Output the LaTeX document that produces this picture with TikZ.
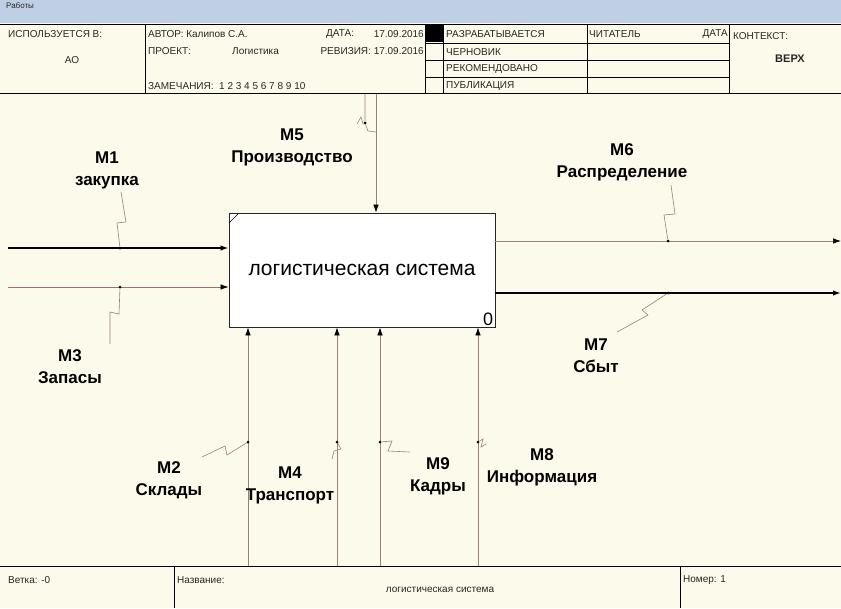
\documentclass[tikz,border=0pt]{standalone}
\usepackage{fontspec}
\setmainfont{Liberation Sans}
\usetikzlibrary{arrows.meta}
\definecolor{paper}{RGB}{252,250,234}
\definecolor{barblue}{RGB}{192,208,228}
\definecolor{wire}{RGB}{150,130,120}
\definecolor{redwire}{RGB}{165,110,100}
\tikzset{
  hdr/.style={font=\fontsize{10}{12}\selectfont, inner sep=0pt, text=black!85},
  lbl/.style={font=\fontsize{17}{22}\selectfont\bfseries, align=center, inner sep=0pt},
  tip/.style={-{Latex[length=8pt,width=5.5pt,black]}},
  dot/.style={circle, fill=black, inner sep=0pt, minimum size=3pt},
  zig/.style={draw=wire, line width=0.6pt},
}
\begin{document}
\begin{tikzpicture}[x=1pt, y=-1pt]
  \useasboundingbox (0,0) rectangle (841,608);
  \fill[paper] (0,0) rectangle (841,608);
  % Title bar
  \fill[barblue] (0,0) rectangle (841,23);
  \node[hdr, anchor=west, font=\fontsize{8}{9}\selectfont] (tab) at (6,6) {Работы};
  % Header frame
  \draw[line width=0.8pt] (0,24) -- (841,24);
  \draw[line width=0.8pt] (0,93) -- (841,93);
  \foreach \x in {145,425,443,587,729} {
    \draw[line width=0.8pt] (\x,24) -- (\x,93);
  }
  \foreach \y in {43,60,77} {
    \draw[line width=0.6pt] (425,\y) -- (729,\y);
  }
  \fill (426,25) rectangle (443,42);
  % Header texts
  \foreach \n/\x/\y/\t in {use/8/34/{ИСПОЛЬЗУЕТСЯ В:}, auth/148/34/{АВТОР: Калипов С.А.},
      proj/148/51/{ПРОЕКТ:}, projn/232/51/{Логистика}, note/148/86/{ЗАМЕЧАНИЯ:\ \ 1 2 3 4 5 6 7 8 9 10},
      date/326/34/{ДАТА:}, st1/446/34/{РАЗРАБАТЫВАЕТСЯ}, st2/446/52/{ЧЕРНОВИК},
      st3/446/69/{РЕКОМЕНДОВАНО}, st4/446/86/{ПУБЛИКАЦИЯ}, read/589/34/{ЧИТАТЕЛЬ},
      ctx/733/36/{КОНТЕКСТ:}} {
    \node[hdr, anchor=west] (h\n) at (\x,\y) {\t};
  }
  \node[hdr, anchor=east] (hdate) at (424,34) {17.09.2016};
  \node[hdr, anchor=east] (hrev) at (424,51) {РЕВИЗИЯ: 17.09.2016};
  \node[hdr, anchor=east] (hrdate) at (728,34) {ДАТА};
  \node[hdr] (hao) at (72,60) {АО};
  \node[hdr, font=\fontsize{11}{13}\selectfont\bfseries] (htop) at (790,59) {ВЕРХ};
  % Activity box
  \node[draw=black!85, fill=white, line width=0.8pt, minimum width=266pt, minimum height=114pt,
    inner sep=0pt, font=\fontsize{21}{24}\selectfont] (sys) at (362,270) {логистическая система};
  \node[font=\fontsize{18}{20}\selectfont, anchor=south east, inner sep=2pt] (num) at (sys.south east) {0};
  \draw[line width=0.6pt] (229,223) -- (238,214);
  % Inputs
  \coordinate (in1) at (8,248);
  \coordinate (in3) at (8,287);
  \draw[tip, line width=1.5pt] (in1) -- (in1 -| sys.west);
  \draw[tip, redwire, line width=0.7pt] (in3) -- (in3 -| sys.west);
  % Control
  \coordinate (c5) at (376,94);
  \draw[tip, wire, line width=0.7pt] (c5) -- (c5 |- sys.north);
  % Outputs
  \coordinate (o6) at (841,241);
  \coordinate (o7) at (841,293);
  \draw[tip, wire, line width=0.7pt] (o6 -| sys.east) -- (o6);
  \draw[tip, line width=2.4pt] (o7 -| sys.east) -- (o7);
  % Mechanisms
  \foreach \n/\x in {2/248, 4/337, 9/380, 8/478} {
    \coordinate (b\n) at (\x,566);
    \draw[tip, wire, line width=0.7pt] (b\n) -- (b\n |- sys.south);
  }
  % Labels
  \foreach \n/\x/\y/\t in {1/107/170/закупка, 5/292/147/Производство, 6/622/162/Распределение,
      3/70/367/Запасы, 7/596/356/Сбыт, 2/169/480/Склады, 4/290/485/Транспорт,
      9/438/476/Кадры, 8/542/467/Информация} {
    \node[lbl] (m\n) at (\x,\y) {M\n\\\t};
  }
  % Squiggles from labels to arrows
  \foreach \n/\x/\y in {1/120/248, 3/120/287, 5/365/123, 6/668/241, 7/668/293,
      2/248/442, 4/337/442, 9/380/442, 8/478/442} {
    \node[dot] (d\n) at (\x,\y) {};
  }
  \foreach \n/\x/\y in {1/121/192, 3/110/344, 5/357/124, 6/671/185, 7/617/332,
      2/202/457, 4/332/459, 9/410/452, 8/486/444} {
    \coordinate (e\n) at (\x,\y);
  }
  \draw[zig] (d1) -- (117,223) -- (126,222) -- (e1);
  \draw[zig] (d3) -- (119,314) -- (110,312) -- (e3);
  \draw[zig] (365,94) -- (d5) -- (368,131) -- (376,132);
  \draw[zig] (e5) -- (361,117) -- (363,124) -- (d5);
  \draw[zig] (d6) -- (664,215) -- (675,214) -- (e6);
  \draw[zig] (d7) -- (642,310) -- (648,315) -- (e7);
  \draw[zig] (d2) -- (227,455) -- (225,446) -- (e2);
  \draw[zig] (d4) -- (341,449) -- (334,451) -- (e4);
  \draw[zig] (d9) -- (392,441) -- (388,451) -- (e9);
  \draw[zig] (d8) -- (483,439) -- (481,447) -- (e8);
  % Footer
  \draw[line width=0.8pt] (0,566) -- (841,566);
  \foreach \x in {174,680} {
    \draw[line width=0.8pt] (\x,566) -- (\x,608);
  }
  \node[hdr, anchor=west] (fbr) at (8,580) {Ветка: -0};
  \node[hdr, anchor=west] (fname) at (177,580) {Название:};
  \node[hdr] (ftitle) at (440,590) {логистическая система};
  \node[hdr, anchor=west] (fnum) at (683,580) {Номер: 1};
\end{tikzpicture}
\end{document}
